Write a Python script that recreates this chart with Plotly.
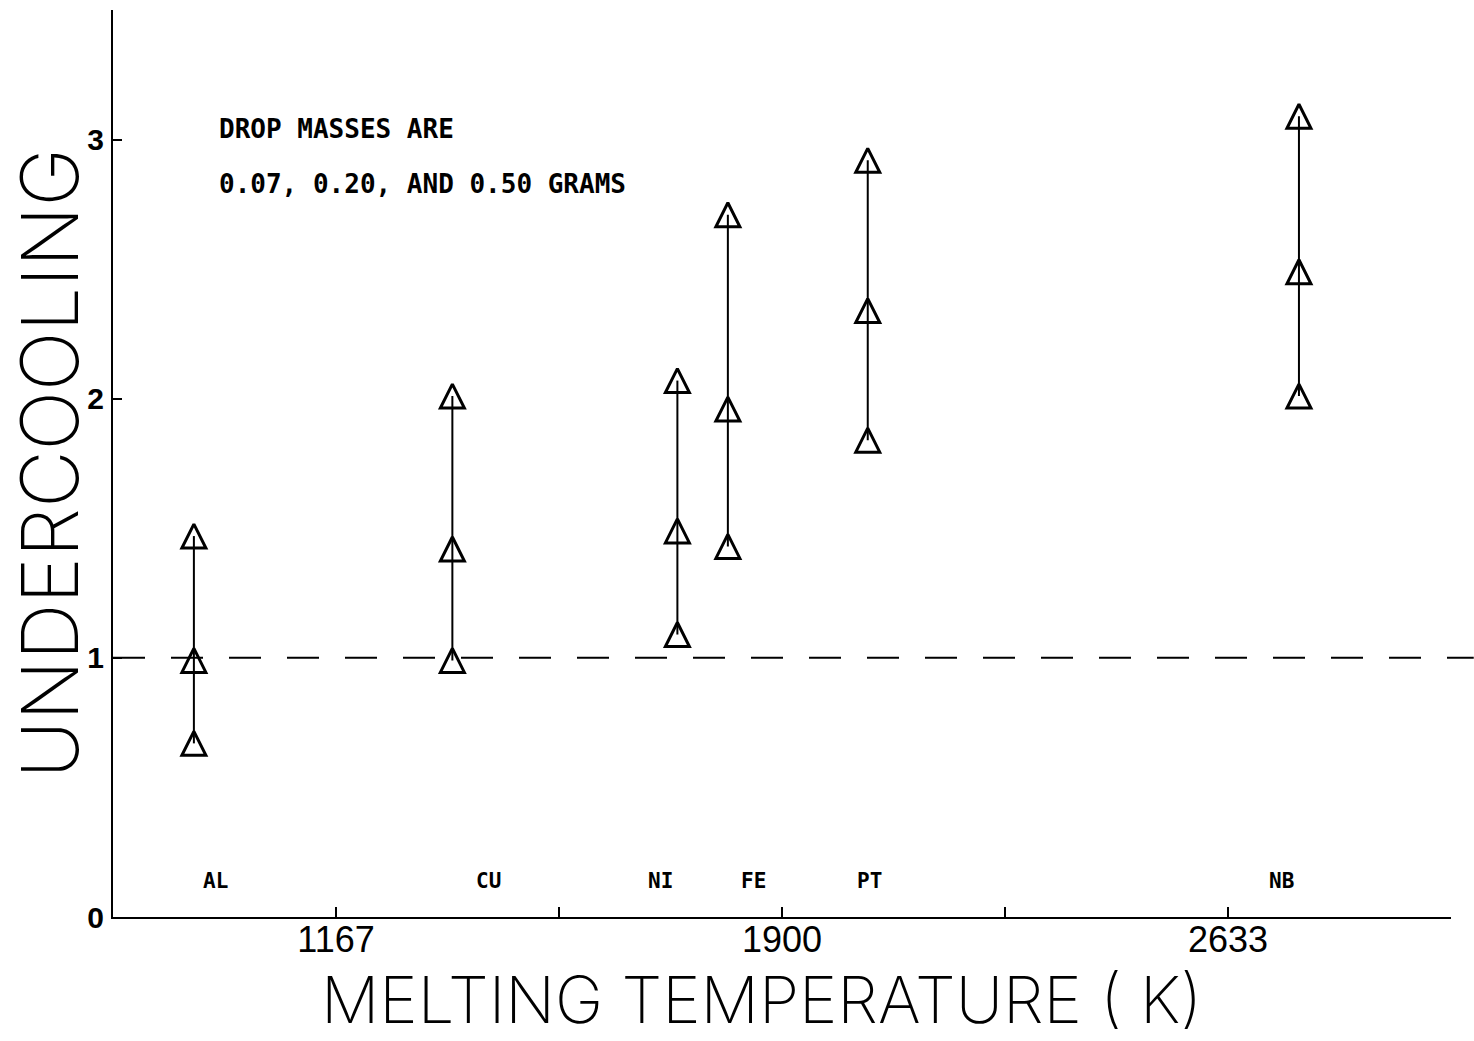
import plotly.graph_objects as go

# ---- data ----
metals = ["AL", "CU", "NI", "FE", "PT", "NB"]
melting_temp = [933, 1358, 1728, 1811, 2041, 2750]   # K
uc_low = [0.67, 0.99, 1.09, 1.43, 1.84, 2.01]        # lowest triangle
uc_mid = [0.99, 1.42, 1.49, 1.96, 2.34, 2.49]        # middle triangle
uc_high = [1.47, 2.01, 2.07, 2.71, 2.92, 3.09]       # top triangle

x_tickvals = [1166.67, 1533.33, 1900, 2266.67, 2633.33, 3000]
x_ticktext = ["1167", "", "1900", "", "2633", ""]
y_tickvals = [0, 1, 2, 3]
y_ticktext = ["0", "1", "2", "3"]

label_y = 0.14
label_xshift = [22, 36, -17, 26, 2, -17]

fig = go.Figure()

# vertical connecting lines
lx, ly = [], []
for t, lo, hi in zip(melting_temp, uc_low, uc_high):
    lx += [t, t, None]
    ly += [lo, hi, None]
fig.add_trace(go.Scatter(x=lx, y=ly, mode="lines",
                         line=dict(color="black", width=2), showlegend=False,
                         hoverinfo="skip"))

for series in (uc_low, uc_mid, uc_high):
    fig.add_trace(go.Scatter(
        x=melting_temp, y=series, mode="markers", showlegend=False,
        marker=dict(symbol="arrow-down-open", size=24, color="black",
                    angle=180, standoff=12,
                    line=dict(width=3, color="black"))))

# dashed reference line at 1
fig.add_shape(type="line", xref="paper", yref="y", x0=0, x1=1.017, y0=1, y1=1,
              line=dict(color="black", width=2, dash="32px,26px"))

mono = "DejaVu Sans Mono"
annotations = []
for m, t, dx in zip(metals, melting_temp, label_xshift):
    annotations.append(dict(x=t, y=label_y, text=m, showarrow=False, xshift=dx,
                            font=dict(family=mono, size=21, color="black", weight="bold")))

annotations += [
    dict(xref="paper", yref="y", x=0.078, y=3.04, xanchor="left", yanchor="middle",
         text="DROP MASSES ARE", showarrow=False,
         font=dict(family=mono, size=26, color="black", weight="bold")),
    dict(xref="paper", yref="y", x=0.078, y=2.83, xanchor="left", yanchor="middle",
         text="0.07, 0.20, AND 0.50 GRAMS", showarrow=False,
         font=dict(family=mono, size=26, color="black", weight="bold")),
    dict(xref="paper", yref="paper", x=0.485, y=-0.1365, xanchor="center", yanchor="bottom",
         text="MELTING TEMPERATURE ( K)", showarrow=False,
         font=dict(family="Inter, DejaVu Sans Condensed", size=65,
                   color="black", weight=200)),
    dict(xref="paper", yref="paper", x=-0.048, y=0.5, xanchor="center", yanchor="middle",
         text="UNDERCOOLING", showarrow=False, textangle=-90,
         font=dict(family="Inter, DejaVu Sans Condensed", size=79,
                   color="black", weight=200)),
]

fig.update_layout(
    width=1474, height=1041,
    margin=dict(l=113, r=23, t=10, b=124, autoexpand=False),
    paper_bgcolor="white", plot_bgcolor="white",
    annotations=annotations,
    showlegend=False,
)
fig.update_xaxes(range=[800, 3000], showgrid=False, zeroline=False, automargin=False,
                 showline=True, linecolor="black", linewidth=2,
                 ticks="inside", ticklen=10, tickwidth=2, tickcolor="black",
                 ticklabelstandoff=-10,
                 tickvals=x_tickvals, ticktext=x_ticktext,
                 tickfont=dict(family="Liberation Sans", size=36, color="black"))
fig.update_yaxes(range=[0, 3.5], showgrid=False, zeroline=False, automargin=False,
                 showline=True, linecolor="black", linewidth=2,
                 ticks="inside", ticklen=9, tickwidth=2, tickcolor="black",
                 ticklabelstandoff=1,
                 tickvals=y_tickvals, ticktext=y_ticktext,
                 tickfont=dict(family="Liberation Sans", size=30, color="black", weight="bold"))

fig.write_html("out.html", config={"displayModeBar": False},
               post_script="document.body.style.margin='0';")
